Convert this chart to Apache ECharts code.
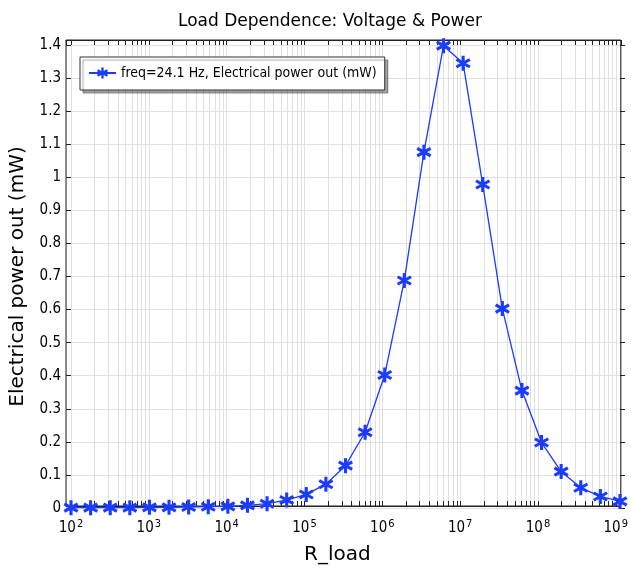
<!DOCTYPE html>
<html><head><meta charset="utf-8">
<script src="https://cdn.jsdelivr.net/npm/echarts@6/dist/echarts.min.js"></script>
<style>html,body{margin:0;padding:0;background:#fff}#c{width:631px;height:570px}</style>
</head><body><div id="c"></div>
<script>
// ---- data ----
const rLoad = [100, 177.8, 316.2, 562.3, 1000, 1778, 3162, 5623, 10000, 17783, 31623, 56234,
  1e5, 177828, 316228, 562341, 1e6, 1778279, 3162278, 5623413, 1e7, 17782794, 31622777, 56234133,
  1e8, 177827941, 316227766, 562341325, 1e9];
const powerOut = [0.001, 0.001, 0.001, 0.001, 0.002, 0.002, 0.003, 0.004, 0.005, 0.008, 0.013, 0.024,
  0.041, 0.072, 0.128, 0.229, 0.402, 0.688, 1.076, 1.398, 1.345, 0.978, 0.603, 0.355,
  0.198, 0.110, 0.061, 0.035, 0.020];
const xExtent = [86.3, 1.159e9];
const yExtent = [0, 1.4];
const yInterval = 0.1;
const decades = [2, 3, 4, 5, 6, 7, 8];
const minorMultipliers = [2, 3, 4, 5, 6, 7, 8, 9];
const seriesName = 'freq=24.1 Hz, Electrical power out (mW)';
const titleText = 'Load Dependence: Voltage & Power';
const xName = 'R_load';
const yName = 'Electrical power out (mW)';

const minorTicks = [];
decades.forEach(d => minorMultipliers.forEach(m => minorTicks.push([m * Math.pow(10, d)])));

const FONT = "'DejaVu Sans Condensed', 'DejaVu Sans', sans-serif";
const NAMEFONT = "'DejaVu Sans', sans-serif";
const GRIDC = '#e0e0e0';
const BLUE = '#1b3cff';
const asterisk = 'path://M8 0 L12 0 L12 20 L8 20 Z M0.34 6.73 L2.34 3.27 L19.66 13.27 L17.66 16.73 Z M17.66 3.27 L19.66 6.73 L2.34 16.73 L0.34 13.27 Z';

const chart = echarts.init(document.getElementById('c'), null, {renderer: 'canvas'});
const xLabelFmt = v => {
  const e = Math.round(Math.log10(v));
  return '{b|10}{s|' + e + '}';
};
chart.setOption({
  animation: false,
  backgroundColor: '#fff',
  title: {text: titleText, left: 173, top: 8,
    textStyle: {fontFamily: NAMEFONT, fontSize: 17, fontWeight: 'normal', color: '#000'}},
  legend: {
    left: 80, top: 57, orient: 'vertical',
    padding: [9, 8, 10, 8], itemWidth: 27, itemHeight: 14, itemGap: 6,
    backgroundColor: '#fff', borderColor: '#333', borderWidth: 1, borderRadius: 0,
    shadowColor: 'rgba(0,0,0,0.35)', shadowOffsetX: 3, shadowOffsetY: 3, shadowBlur: 1,
    textStyle: {fontFamily: FONT, fontSize: 14, color: '#000'},
    data: [seriesName]
  },
  grid: [
    {left: 66, right: 6, top: 45, bottom: 62, containLabel: false},
    {left: 66, right: 6, top: 40, bottom: 58, show: true, borderColor: '#222', borderWidth: 1, backgroundColor: 'transparent', z: 5}
  ],
  xAxis: [
    {gridIndex: 0, type: 'log', min: xExtent[0], max: xExtent[1], show: false},
    {gridIndex: 1, type: 'log', min: xExtent[0], max: xExtent[1], position: 'bottom',
      name: xName, nameLocation: 'middle', nameGap: 39,
      nameTextStyle: {fontFamily: NAMEFONT, fontSize: 20, color: '#000', padding: [0, 12, 0, 0]},
      axisLine: {show: true, lineStyle: {color: '#222', width: 1}},
      axisTick: {show: true, inside: true, length: 5, lineStyle: {color: '#222'}},
      splitLine: {show: true, lineStyle: {color: GRIDC, width: 1}},
      axisLabel: {show: true, margin: 13, showMinLabel: false, showMaxLabel: false, formatter: xLabelFmt,
        rich: {b: {fontFamily: FONT, fontSize: 15, color: '#000'},
               s: {fontFamily: FONT, fontSize: 11, color: '#000', verticalAlign: 'top', padding: [0, 0, 8, 1]}}}},
    {gridIndex: 1, type: 'log', min: xExtent[0], max: xExtent[1], position: 'top',
      axisLine: {show: true, lineStyle: {color: '#222', width: 1}},
      axisTick: {show: true, inside: true, length: 5, lineStyle: {color: '#222'}},
      splitLine: {show: false}, axisLabel: {show: false}}
  ],
  yAxis: [
    {gridIndex: 0, type: 'value', min: yExtent[0], max: yExtent[1], interval: yInterval, position: 'left',
      name: yName, nameLocation: 'middle', nameGap: 38, nameRotate: 90,
      nameTextStyle: {fontFamily: NAMEFONT, fontSize: 20, color: '#000'},
      axisLine: {show: false},
      axisTick: {show: true, inside: true, length: 5, lineStyle: {color: '#222'}},
      splitLine: {show: true, lineStyle: {color: GRIDC, width: 1}},
      axisLabel: {fontFamily: FONT, fontSize: 15, color: '#000', margin: 5}},
    {gridIndex: 0, type: 'value', min: yExtent[0], max: yExtent[1], interval: yInterval, position: 'right',
      axisLine: {show: false},
      axisTick: {show: true, inside: true, length: 5, lineStyle: {color: '#222'}},
      splitLine: {show: false}, axisLabel: {show: false}},
    {gridIndex: 1, type: 'value', min: 0, max: 1, show: false}
  ],
  series: [
    {
      type: 'custom', xAxisIndex: 1, yAxisIndex: 2, silent: true, z: 1,
      data: minorTicks,
      encode: {x: 0},
      renderItem: function (params, api) {
        const cs = params.coordSys;
        const x = Math.round(api.coord([api.value(0), 0.5])[0]) + 0.5;
        return {type: 'group', children: [
          {type: 'line', shape: {x1: x, y1: cs.y, x2: x, y2: cs.y + cs.height}, style: {stroke: GRIDC, lineWidth: 1}},
          {type: 'line', shape: {x1: x, y1: cs.y + cs.height, x2: x, y2: cs.y + cs.height - 5}, style: {stroke: '#222', lineWidth: 1}},
          {type: 'line', shape: {x1: x, y1: cs.y, x2: x, y2: cs.y + 5}, style: {stroke: '#222', lineWidth: 1}}
        ]};
      }
    },
    {
      name: seriesName, type: 'line', xAxisIndex: 0, yAxisIndex: 0, z: 10, clip: false,
      data: rLoad.map((r, i) => [r, powerOut[i]]),
      symbol: asterisk, symbolSize: 15,
      lineStyle: {color: BLUE, width: 1.3},
      itemStyle: {color: BLUE}
    }
  ]
});
</script>
</body></html>
